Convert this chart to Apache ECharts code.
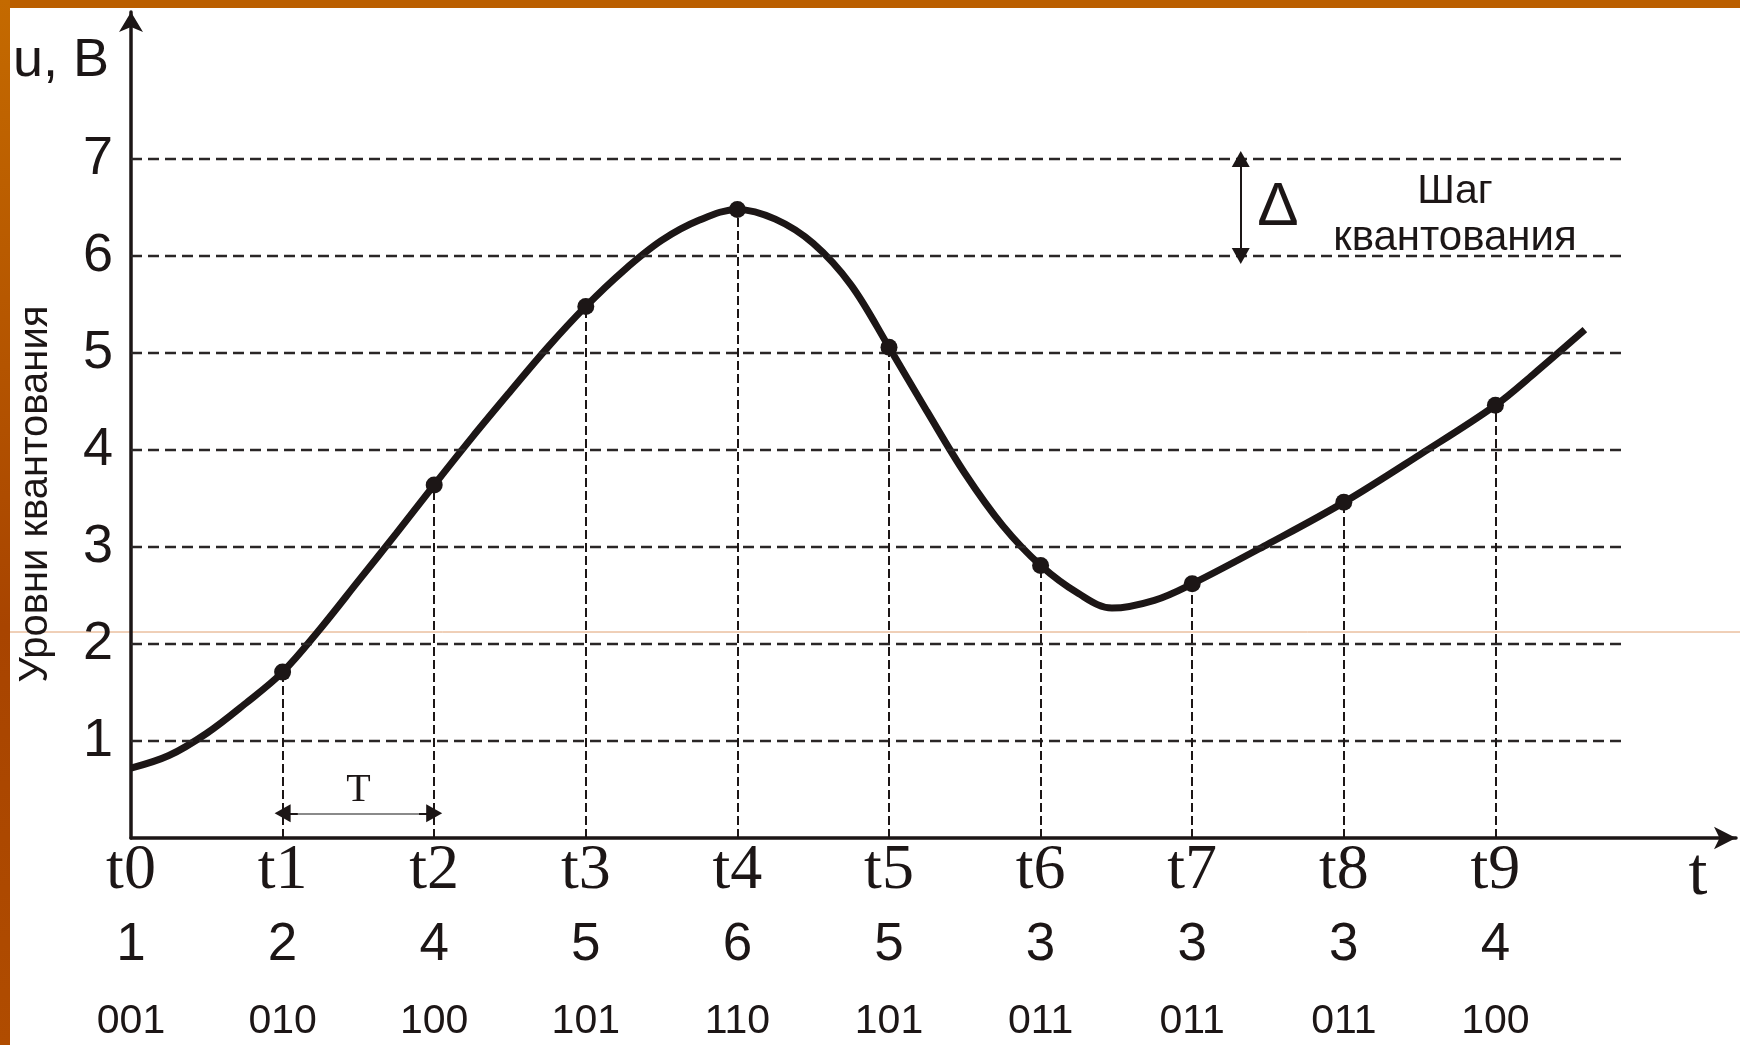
<!DOCTYPE html>
<html>
<head>
<meta charset="utf-8">
<title>Квантование сигнала</title>
<script src="https://cdn.jsdelivr.net/npm/echarts@6/dist/echarts.min.js"></script>
<style>
  html, body { margin: 0; padding: 0; background: #fff; }
  #chart { width: 1740px; height: 1045px; }
</style>
</head>
<body>
<div id="chart"></div>
<script>
// sample moments t0..t9 and the signal value read at each one
const tLabels = ['t0', 't1', 't2', 't3', 't4', 't5', 't6', 't7', 't8', 't9']
const sampleT = [0, 1, 2, 3, 4, 5, 6, 7, 8, 9]
const sampleU = [0.72, 1.71, 3.64, 5.48, 6.48, 5.06, 2.81, 2.62, 3.46, 4.46]
// quantized level and its binary code under each moment
const levelCodes = ['1', '2', '4', '5', '6', '5', '3', '3', '3', '4']
const binCodes = ['001', '010', '100', '101', '110', '101', '011', '011', '011', '100']
// the continuous signal
const curveT = [0, 0.25, 0.5, 0.75, 1, 1.25, 1.5, 1.75, 2, 2.25, 2.5, 2.75, 3, 3.25, 3.5, 3.75, 4,
  4.25, 4.5, 4.75, 5, 5.25, 5.5, 5.75, 6, 6.25, 6.47, 6.75, 7, 7.5, 8, 8.5, 9, 9.25, 9.59]
const curveU = [0.72, 0.85, 1.08, 1.38, 1.71, 2.16, 2.65, 3.14, 3.64, 4.13, 4.6, 5.06, 5.48, 5.85, 6.16, 6.37, 6.48,
  6.38, 6.13, 5.7, 5.06, 4.4, 3.76, 3.22, 2.81, 2.52, 2.37, 2.45, 2.62, 3.03, 3.46, 3.95, 4.46, 4.78, 5.24]
// quantization levels
const gridLevels = [1, 2, 3, 4, 5, 6, 7]

const ink = '#1c1616'
const sans = 'Liberation Sans, Arial, sans-serif'
const serif = 'Liberation Serif, Times New Roman, serif'
const gridEnd = 9.83      // where the dashed level lines stop
const deltaT = 7.32       // x of the step arrow
const periodY = 0.255     // height of the T arrow

let chart = echarts.init(document.getElementById('chart'))

let curve = curveT.map((t, i) => [t, curveU[i]])
let dots = sampleT.slice(1).map((t, i) => [t, sampleU[i + 1]])
let drops = sampleT.slice(1).map((t, i) => [{ coord: [t, 0] }, { coord: [t, sampleU[i + 1]] }])
let levelLines = gridLevels.map(k => [{ coord: [0, k] }, { coord: [gridEnd, k] }])

let option = {
  backgroundColor: '#fff',
  animation: false,
  grid: { left: 131, right: 4, top: 12, bottom: 207 },
  xAxis: {
    type: 'value',
    min: 0,
    max: 10.587,
    interval: 1,
    splitLine: { show: false },
    axisTick: { show: false },
    axisLine: {
      lineStyle: { color: ink, width: 3.5 },
      symbol: ['none', 'arrow'],
      symbolSize: [17, 22]
    },
    axisLabel: {
      margin: 2,
      color: ink,
      formatter: function (v) {
        let i = sampleT.indexOf(v)
        if (i < 0) return ''
        return '{t|' + tLabels[i] + '}\n{n|' + levelCodes[i] + '}\n{b|' + binCodes[i] + '}'
      },
      rich: {
        t: { fontFamily: serif, fontSize: 64, lineHeight: 62, color: ink },
        n: { fontFamily: sans, fontSize: 53, lineHeight: 86, color: ink },
        b: { fontFamily: sans, fontSize: 41, lineHeight: 68, color: ink }
      }
    }
  },
  yAxis: {
    type: 'value',
    min: 0,
    max: 8.515,
    interval: 1,
    splitLine: { show: false },
    axisTick: { show: false },
    axisLine: {
      lineStyle: { color: ink, width: 3.5 },
      symbol: ['none', 'arrow'],
      symbolSize: [18, 20]
    },
    axisLabel: {
      margin: 18,
      color: ink,
      fontFamily: sans,
      fontSize: 54,
      formatter: v => (gridLevels.indexOf(v) >= 0 ? String(v) : '')
    }
  },
  series: [
    {
      // dashed level lines
      type: 'scatter',
      data: [],
      z: 1,
      markLine: {
        silent: true,
        symbol: ['none', 'none'],
        label: { show: false },
        lineStyle: { color: '#2a2626', width: 2.4, type: [11, 6] },
        data: levelLines
      }
    },
    {
      // drop lines from the samples
      type: 'scatter',
      data: [],
      z: 1,
      markLine: {
        silent: true,
        symbol: ['none', 'none'],
        label: { show: false },
        lineStyle: { color: ink, width: 2, type: [9, 4] },
        data: drops
      }
    },
    {
      // step arrow and T arrow
      type: 'scatter',
      data: [],
      z: 2,
      markLine: {
        silent: true,
        symbol: ['triangle', 'triangle'],
        symbolSize: [18, 16],
        lineStyle: { color: ink, width: 2, type: 'solid' },
        label: { show: false },
        data: [
          [{ coord: [deltaT, 7] }, { coord: [deltaT, 6] }],
          [{ coord: [1, periodY] }, { coord: [2, periodY] }]
        ]
      }
    },
    {
      type: 'scatter',
      data: [],
      z: 3,
      markLine: {
        silent: true,
        symbol: ['none', 'none'],
        lineStyle: { color: '#8a8a8a', width: 2.2, type: 'solid' },
        label: {
          show: true,
          position: 'middle',
          formatter: 'T',
          fontFamily: serif,
          fontSize: 40,
          color: ink,
          distance: 3
        },
        data: [
          [{ coord: [1.1, periodY] }, { coord: [1.9, periodY] }]
        ]
      }
    },
    {
      name: 'u(t)',
      type: 'line',
      data: curve,
      smooth: 0.35,
      showSymbol: false,
      z: 4,
      lineStyle: { color: ink, width: 7 }
    },
    {
      name: 'samples',
      type: 'scatter',
      data: dots,
      symbolSize: 17,
      z: 5,
      itemStyle: { color: ink, opacity: 1 }
    }
  ],
  graphic: [
    { type: 'rect', left: 0, top: 0, shape: { width: 1740, height: 8 }, style: { fill: '#bb5f00' }, z: 10 },
    {
      type: 'rect', left: 0, top: 0, shape: { width: 10, height: 1045 }, z: 10,
      style: {
        fill: new echarts.graphic.LinearGradient(0, 0, 0, 1, [
          { offset: 0, color: '#c46a00' },
          { offset: 0.35, color: '#b45400' },
          { offset: 0.6, color: '#a84400' },
          { offset: 1, color: '#b04c00' }
        ])
      }
    },
    { type: 'line', shape: { x1: 10, y1: 632, x2: 1740, y2: 632 }, style: { stroke: '#e0a070', lineWidth: 1 }, z: 0, silent: true },
    { type: 'text', left: 13, top: 34, style: { text: 'u, B', font: '54px ' + sans, fill: ink } },
    {
      type: 'text', x: 36, y: 494, rotation: Math.PI / 2,
      style: { text: 'Уровни квантования', font: '40px ' + sans, fill: ink, align: 'center', verticalAlign: 'middle' }
    },
    { type: 'text', x: 1278, y: 208, style: { text: 'Δ', font: '62px ' + sans, fill: ink, align: 'center', verticalAlign: 'middle' } },
    { type: 'text', x: 1455, y: 192, style: { text: 'Шаг', font: '41px ' + sans, fill: ink, align: 'center', verticalAlign: 'middle' } },
    { type: 'text', x: 1455, y: 238, style: { text: 'квантования', font: '42px ' + sans, fill: ink, align: 'center', verticalAlign: 'middle' } },
    { type: 'text', x: 1698, y: 876, style: { text: 't', font: '68px ' + serif, fill: ink, align: 'center', verticalAlign: 'middle' } }
  ]
}

chart.setOption(option)
</script>
</body>
</html>
